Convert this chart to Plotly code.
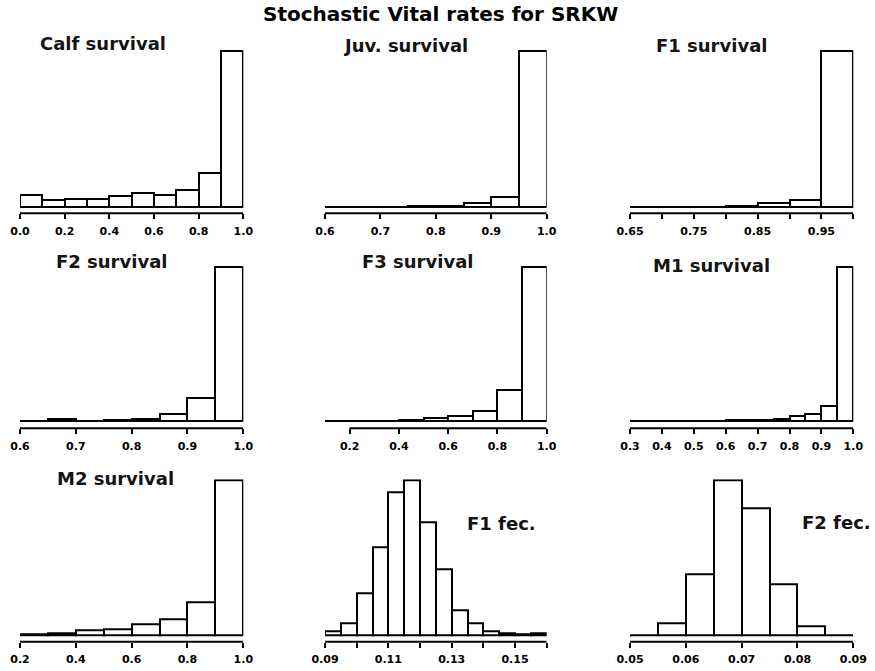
import numpy as np
import plotly.graph_objects as go

# ---------------- data ----------------
main_title = "Stochastic Vital rates for SRKW"
panel_titles = ["Calf survival", "Juv. survival", "F1 survival",
                "F2 survival", "F3 survival", "M1 survival",
                "M2 survival", "F1 fec.", "F2 fec."]

calf_start, calf_bin = 0.0, 0.1
calf_counts = [43, 25, 29, 30, 39, 50, 43, 61, 121, 559]
calf_ticks = [0.0, 0.2, 0.4, 0.6, 0.8, 1.0]
calf_labels = ["0.0", "0.2", "0.4", "0.6", "0.8", "1.0"]

juv_start, juv_bin = 0.6, 0.05
juv_counts = [0, 0, 0, 6, 6, 26, 58, 904]
juv_ticks = [0.6, 0.7, 0.8, 0.9, 1.0]
juv_labels = ["0.6", "0.7", "0.8", "0.9", "1.0"]

f1s_start, f1s_bin = 0.65, 0.05
f1s_counts = [0, 0, 0, 9, 24, 43, 924]
f1s_ticks = [0.65, 0.70, 0.75, 0.80, 0.85, 0.90, 0.95, 1.0]
f1s_labels = ["0.65", "", "0.75", "", "0.85", "", "0.95", ""]

f2s_start, f2s_bin = 0.6, 0.05
f2s_counts = [0, 7, 0, 4, 12, 38, 121, 818]
f2s_ticks = [0.6, 0.7, 0.8, 0.9, 1.0]
f2s_labels = ["0.6", "0.7", "0.8", "0.9", "1.0"]

f3s_start, f3s_bin = 0.1, 0.1
f3s_counts = [0, 0, 0, 6, 13, 23, 50, 150, 758]
f3s_ticks = [0.2, 0.4, 0.6, 0.8, 1.0]
f3s_labels = ["0.2", "0.4", "0.6", "0.8", "1.0"]

m1s_start, m1s_bin = 0.3, 0.05
m1s_counts = [0, 0, 0, 0, 0, 0, 2, 2, 2, 12, 25, 39, 79, 839]
m1s_ticks = [0.3, 0.4, 0.5, 0.6, 0.7, 0.8, 0.9, 1.0]
m1s_labels = ["0.3", "0.4", "0.5", "0.6", "0.7", "0.8", "0.9", "1.0"]

m2s_start, m2s_bin = 0.2, 0.1
m2s_counts = [3, 7, 19, 25, 47, 69, 146, 684]
m2s_ticks = [0.2, 0.4, 0.6, 0.8, 1.0]
m2s_labels = ["0.2", "0.4", "0.6", "0.8", "1.0"]

f1f_start, f1f_bin = 0.09, 0.005
f1f_counts = [5, 18, 63, 132, 214, 232, 170, 99, 37, 18, 6, 3, 1, 2]
f1f_ticks = [0.09, 0.10, 0.11, 0.12, 0.13, 0.14, 0.15, 0.16]
f1f_labels = ["0.09", "", "0.11", "", "0.13", "", "0.15", ""]

f2f_start, f2f_bin = 0.05, 0.005
f2f_counts = [0, 28, 148, 373, 307, 122, 22, 0]
f2f_ticks = [0.05, 0.06, 0.07, 0.08, 0.09]
f2f_labels = ["0.05", "0.06", "0.07", "0.08", "0.09"]

panels = [
    (calf_start, calf_bin, calf_counts, calf_ticks, calf_labels),
    (juv_start, juv_bin, juv_counts, juv_ticks, juv_labels),
    (f1s_start, f1s_bin, f1s_counts, f1s_ticks, f1s_labels),
    (f2s_start, f2s_bin, f2s_counts, f2s_ticks, f2s_labels),
    (f3s_start, f3s_bin, f3s_counts, f3s_ticks, f3s_labels),
    (m1s_start, m1s_bin, m1s_counts, m1s_ticks, m1s_labels),
    (m2s_start, m2s_bin, m2s_counts, m2s_ticks, m2s_labels),
    (f1f_start, f1f_bin, f1f_counts, f1f_ticks, f1f_labels),
    (f2f_start, f2f_bin, f2f_counts, f2f_ticks, f2f_labels),
]

# ---------------- layout geometry (pixels) ----------------
W, H = 875, 671
col_px = [(20, 243.3), (325, 546.7), (630, 853.3)]
# (top of tallest bar, axis line, bar baseline)
row_px = [(50, 213.3, 207), (266, 428.3, 420.7), (479.3, 641.7, 635)]
title_px = [(102.5, 44), (405.5, 45), (711, 45),
            (111, 261), (417.5, 261), (711, 265),
            (115, 479), (501.7, 523), (836, 522)]

fig = go.Figure()
layout = dict(
    width=W, height=H,
    margin=dict(l=0, r=0, t=0, b=0, pad=0, autoexpand=False),
    paper_bgcolor="white", plot_bgcolor="white",
    showlegend=False, bargap=0,
)
shapes = []
annotations = []
tickfont = dict(family="DejaVu Sans", size=11, color="black", weight="bold")

for i, (start, binw, counts, ticks, labels) in enumerate(panels):
    r, c = divmod(i, 3)
    n = i + 1
    xs = "x" if n == 1 else f"x{n}"
    ys = "y" if n == 1 else f"y{n}"
    counts = np.array(counts, dtype=float)
    edges = start + binw * np.arange(len(counts) + 1)
    centers = (edges[:-1] + edges[1:]) / 2
    fig.add_trace(go.Bar(
        x=centers, y=counts, width=binw,
        marker=dict(color="white", line=dict(color="black", width=2)),
        xaxis=xs, yaxis=ys, hoverinfo="skip",
    ))
    top, axis, base = row_px[r]
    x0p, x1p = col_px[c]
    ymax = counts.max()
    s = ymax / (base - top)
    eps = (edges[-1] - edges[0]) * 1e-6
    layout["xaxis" if n == 1 else f"xaxis{n}"] = dict(
        domain=[x0p / W, x1p / W],
        range=[edges[0] - eps, edges[-1] + eps],
        anchor=ys, showgrid=False, zeroline=False, showline=False,
        ticks="outside", ticklen=5, tickwidth=2, tickcolor="black",
        tickmode="array", tickvals=ticks, ticktext=labels,
        tickfont=tickfont, ticklabelstandoff=2,
    )
    layout["yaxis" if n == 1 else f"yaxis{n}"] = dict(
        domain=[1 - axis / H, 1 - top / H],
        range=[-(axis - base) * s, ymax + 1.5 * s],
        anchor=xs, visible=False,
    )
    shapes.append(dict(type="line", xref=xs, yref=f"{ys} domain",
                       x0=ticks[0], x1=ticks[-1], y0=0, y1=0,
                       line=dict(color="black", width=2)))
    tx, ty = title_px[i]
    annotations.append(dict(
        text=panel_titles[i], x=tx / W, y=1 - ty / H, xref="paper", yref="paper",
        xanchor="center", yanchor="middle", showarrow=False,
        font=dict(family="DejaVu Sans", size=18, color="#141414", weight="bold"),
    ))

annotations.append(dict(
    text=main_title, x=440 / W, y=1 - 14 / H, xref="paper", yref="paper",
    xanchor="center", yanchor="middle", showarrow=False,
    font=dict(family="DejaVu Sans", size=20, color="black", weight="bold"),
))
layout["shapes"] = shapes
layout["annotations"] = annotations
fig.update_layout(**layout)
fig.write_html("out.html")
